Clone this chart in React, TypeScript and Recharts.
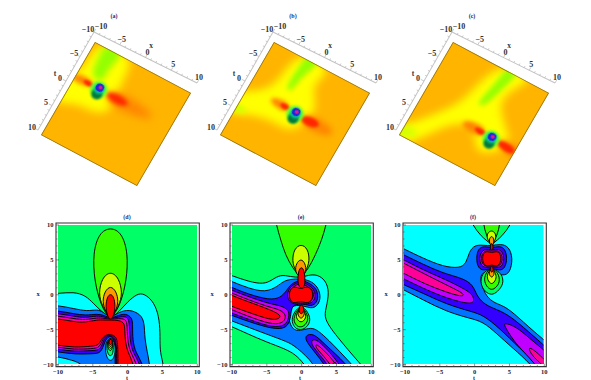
import { ScatterChart, Scatter, XAxis, YAxis, Curve } from 'recharts';

type Pts = number[][];

// hue levels of the contour plots
const SPRING = '#00ff66';
const LIME = '#33ff00';
const YGREEN = '#ccff00';
const ORANGE = '#ff9900';
const RED = '#ff0000';
const CYAN = '#00ffff';
const BLUE = '#0073ff';
const DARK = '#3300ff';
const PURPLE = '#c000ff';
const MAGENTA = '#ff0099';

const minorTicks = [-10, -9, -8, -7, -6, -5, -4, -3, -2, -1, 0, 1, 2, 3, 4, 5, 6, 7, 8, 9, 10];
const majorTicks = [-10, -5, 0, 5, 10];

const wholeField: Pts = [[-13, -13], [13, -13], [13, 13], [-13, 13]];
const frameBox: Pts = [[-10.29, -10.29], [10.29, -10.29], [10.29, 10.29], [-10.29, 10.29]];
const surfaceBox: Pts = [[-10, -10], [10, -10], [10, 10], [-10, 10]];

// ---- panel (d), contour lines as [t, x]
const dCyan: Pts = [[-12, 0.15], [-10, 0.15], [-7.75, 0.4], [-6.07, -0.1], [-4.87, -1.3], [-3.67, -2.5], [-2.47, -3.4], [-1.27, -2.5], [-0.07, -1.05], [1.37, 0.15], [2.33, 0.15], [3.52, -0.8], [4.34, -2.5], [4.65, -4.9], [4.6, -7.2], [4.75, -8.7], [5.11, -10], [5.3, -12], [-11, -12], [-12, -12], [-12, -11]];
const dBlue: Pts = [[-12, -1.5], [-10, -1.55], [-7.75, -2], [-5.8, -2.4], [-4.4, -2.1], [-3.5, -2.5], [-2.47, -3.4], [-1.27, -2.5], [0.2, -2.1], [1.85, -2.8], [2.4, -4], [2.42, -6.3], [2.8, -8.2], [3.14, -10], [3.3, -12], [-6, -12], [-6.3, -10], [-8, -9.4], [-10, -8.9], [-12, -8.7]];
const dDark: Pts = [[-12, -2.25], [-10, -2.3], [-7.75, -2.75], [-6, -3], [-4.4, -2.75], [-3.4, -2.95], [-2.47, -3.45], [-1.3, -2.95], [-0.3, -2.7], [0.65, -3.3], [0.7, -4.5], [0.7, -6.5], [1.1, -8.3], [2.23, -10], [2.5, -12], [-1.8, -12], [-1.8, -10], [-1.85, -7.14], [-2.09, -6.24], [-2.47, -6], [-2.85, -6.1], [-3.33, -6.76], [-3.81, -8.43], [-5, -8.48], [-7.75, -8.57], [-10, -8.19], [-12, -8]];
const dPurple: Pts = [[-12, -2.6], [-10, -2.7], [-7.75, -3.1], [-6.07, -3.35], [-4.4, -3], [-3.4, -3.2], [-2.47, -3.5], [-1.3, -3.2], [-0.2, -3.1], [0.26, -3.7], [0.3, -6.5], [0.7, -8.3], [1.85, -10], [2.1, -12], [-1.65, -12], [-1.65, -10], [-1.7, -7], [-1.99, -6.14], [-2.47, -5.9], [-2.95, -5.9], [-3.48, -6.52], [-3.91, -8], [-5, -8], [-7.75, -8.2], [-10, -7.81], [-12, -7.6]];
const dMagenta: Pts = [[-12, -3], [-10, -3.05], [-7.75, -3.45], [-6.07, -3.65], [-4.4, -3.3], [-3.4, -3.4], [-2.47, -3.55], [-1.3, -3.4], [-0.4, -3.5], [-0.07, -4], [-0.05, -6.5], [0.35, -8.3], [1.37, -10], [1.6, -12], [-1.56, -12], [-1.56, -10], [-1.61, -6.86], [-1.89, -6.05], [-2.47, -5.81], [-3.05, -5.81], [-3.62, -6.43], [-4.05, -7.62], [-5, -7.75], [-7.75, -7.9], [-10, -7.52], [-12, -7.3]];
const dRed: Pts = [[-12, -3.4], [-10, -3.43], [-7.75, -3.9], [-6.07, -4], [-4.4, -3.6], [-3.4, -3.65], [-2.47, -3.65], [-1.27, -3.67], [-0.6, -4], [-0.41, -4.6], [-0.41, -6.5], [0, -8.3], [0.89, -10], [1.1, -12], [-1.41, -12], [-1.41, -10], [-1.41, -8.19], [-1.46, -6.76], [-1.75, -5.95], [-2.47, -5.71], [-3.19, -5.76], [-3.81, -6.43], [-4.15, -7.24], [-5, -7.4], [-7.75, -7.6], [-10, -7.24], [-12, -7]];
const dHumpCyan: Pts = [[-2.47, -6.1], [-3.1, -6.7], [-3.25, -8], [-2.95, -9.2], [-2.47, -9.55], [-2, -9.2], [-1.75, -8], [-1.9, -6.7]];
const dHumpSpring: Pts = [[-2.47, -6.15], [-2.95, -6.7], [-3.05, -7.8], [-2.75, -8.7], [-2.47, -8.8], [-2.15, -8.6], [-2.05, -7.6], [-2.1, -6.7]];
const dHumpLime: Pts = [[-2.47, -6.2], [-2.85, -6.7], [-2.95, -7.5], [-2.47, -8.3], [-2.15, -7.5], [-2.15, -6.7]];
const dHumpYellow: Pts = [[-2.47, -6.2], [-2.8, -6.7], [-2.85, -7.3], [-2.47, -7.9], [-2.15, -7.3], [-2.15, -6.7]];
const dHumpOrange: Pts = [[-2.47, -6.25], [-2.75, -6.7], [-2.75, -7.15], [-2.47, -7.6], [-2.2, -7.15], [-2.2, -6.7]];
const dHumpRed: Pts = [[-2.47, -6.3], [-2.7, -6.7], [-2.65, -7.05], [-2.47, -7.25], [-2.3, -7.05], [-2.25, -6.7]];
const dPearSpring: Pts = [[-2.47, 9.7], [-4.1, 8.9], [-5, 6], [-4.8, 2], [-3.9, -1.3], [-3.2, -2.6], [-2.47, -3.5], [-2.47, -3.5], [-1.8, -2.6], [-1.05, -1.3], [-0.15, 2], [0.05, 6], [-0.85, 8.9]];
const dPearYellow: Pts = [[-2.47, 3.4], [-3.7, 2.4], [-4.2, 0.2], [-3.7, -1.6], [-2.47, -3.5], [-1.25, -1.6], [-0.75, 0.2], [-1.25, 2.4]];
const dPearOrange: Pts = [[-2.47, 1.3], [-3.3, 0.5], [-3.65, -1], [-3.2, -2.4], [-2.47, -3.6], [-1.75, -2.4], [-1.3, -1], [-1.65, 0.5]];
const dPearRed: Pts = [[-2.47, 0.15], [-2.95, -0.3], [-3.2, -1.7], [-2.95, -3], [-2.47, -3.75], [-2, -3], [-1.75, -1.7], [-2, -0.3]];

// ---- panel (e)
const eCyan: Pts = [[-12, 3.4], [-10, 2.73], [-7.6, 1.87], [-5.45, 1.48], [-4.26, 2.1], [-3.06, 2.9], [-1.63, 2.58], [-0.19, 2.44], [1, 2.82], [2.2, 2.9], [3.4, 2.1], [3.97, 0.43], [3.49, -1.96], [3.15, -3.4], [4.83, -5.79], [8.41, -10], [10.3, -12], [1.7, -12], [0.29, -9.86], [-0.91, -8.6], [-2.35, -7.8], [-5.2, -6.75], [-7.6, -5.7], [-10, -4.6], [-12, -3.8]];
const eBlue: Pts = [[-12, 2.7], [-10, 1.87], [-7.6, 0.9], [-5.2, 0.33], [-3.5, 1.15], [-2.6, 1.96], [-1.63, 2.2], [-0.19, 2.3], [1.5, 1.96], [2.6, 0.67], [2.7, -1], [1.8, -2], [0.8, -1.8], [-0.2, -1.5], [-1.3, -1.6], [-1.9, -2], [-1.9, -3.6], [-1.3, -5.1], [-0.2, -5.2], [1, -4.8], [1.96, -4.84], [3.63, -6.27], [7.2, -10], [8.8, -12], [2.2, -12], [1.96, -10], [-0.91, -7.4], [-2.1, -6.75], [-4.7, -5.8], [-7.6, -4.7], [-10, -3.78], [-12, -3]];
const eDark: Pts = [[-12, 2], [-10, 1], [-7.6, 0.05], [-4.7, -0.76], [-3.06, -0.5], [-2.1, 0.67], [-1.6, 1.5], [-0.19, 2.2], [1, 1.7], [2.2, 0.9], [2.4, -0.8], [1.6, -1.7], [0.5, -1.4], [-0.2, -1.3], [-1.3, -1.5], [-1.55, -2.5], [-1.6, -3.3], [-2.1, -4.9], [-4.26, -4.93], [-7.6, -3.87], [-10, -3], [-12, -2.2]];
const ePurple: Pts = [[-12, 1.5], [-10, 0.62], [-7.6, -0.3], [-4.7, -1.3], [-2.9, -1.6], [-1.85, -2.2], [-1.8, -3.2], [-2.3, -4.5], [-4.2, -4.7], [-6.65, -3.9], [-10, -2.68], [-12, -1.8]];
const eMagenta: Pts = [[-12, 1.1], [-10, 0.2], [-7.6, -0.75], [-5, -1.7], [-3.06, -2.15], [-2.2, -2.9], [-2.5, -4], [-4, -4.35], [-6.65, -3.5], [-10, -2.2], [-12, -1.3]];
const eRed: Pts = [[-12, 0.8], [-10, -0.14], [-7.6, -1.05], [-4.7, -2.1], [-3.2, -2.8], [-3, -3.3], [-4, -3.75], [-6.65, -2.9], [-10, -1.7], [-12, -0.9]];
const eIslandDark: Pts = [[0.52, -5.79], [1.72, -5.55], [3.15, -6.99], [6.5, -10], [7.6, -12], [4, -12], [3.4, -10], [0.52, -6.75]];
const eIslandPurple: Pts = [[1.48, -6.37], [2.44, -6.51], [5.54, -10], [6.4, -12], [4.4, -12], [3.87, -10], [1.24, -7.23]];
const eIslandMagenta: Pts = [[1.96, -6.99], [2.91, -7.71], [5.07, -10], [5.7, -12], [4.6, -12], [4.35, -10], [1.96, -7.71]];
const eIslandRed: Pts = [[4.7, -9.5], [5.2, -10.2], [5.2, -11], [4.3, -11], [4.3, -10.2]];
const eRingPurple: Pts = [[-0.2, 1.9], [1, 1.4], [1.9, 0.6], [2, -0.6], [1.2, -1.4], [-0.2, -1.3], [-1.3, -1.4], [-2.1, -0.6], [-2, 0.6], [-1.3, 1.4]];
const eRingMagenta: Pts = [[-0.2, 1.7], [0.9, 1.2], [1.7, 0.5], [1.7, -0.5], [1, -1.2], [-0.2, -1.2], [-1.2, -1.2], [-1.8, -0.5], [-1.75, 0.5], [-1.2, 1.2]];
const eRingRed: Pts = [[-0.2, 0.7], [0.6, 1.25], [1.55, 0.8], [1.65, -0.6], [0.9, -1.35], [-0.2, -0.85], [-1.2, -1.35], [-1.85, -0.6], [-1.75, 0.8], [-0.9, 1.25]];
const eFanLime: Pts = [[-4, 12], [-3.64, 10], [-3, 7.8], [-2.34, 5.7], [-1.3, 3.8], [-0.15, 2.4], [-0.15, 2.4], [1, 3.8], [1.96, 5.7], [2.85, 7.8], [3.49, 10], [3.9, 12]];
const eFanYellow: Pts = [[-0.1, 7.3], [-1.1, 6.6], [-1.4, 4.8], [-0.9, 3.4], [-0.15, 2.3], [0.6, 3.4], [1.15, 4.8], [0.9, 6.6]];
const eFanOrange: Pts = [[-0.1, 5.2], [-0.8, 4.5], [-1, 3.3], [-0.15, 2.2], [0.7, 3.3], [0.5, 4.5]];
const eFanRed: Pts = [[-0.05, 4.1], [-0.5, 3.4], [-0.6, 1.8], [-0.3, 0.9], [0.3, 0.9], [0.5, 1.8], [0.4, 3.4]];
const eLobeSpring: Pts = [[-0.1, -1.4], [1, -2.6], [1.3, -3.9], [0.5, -4.9], [-0.2, -5.05], [-0.9, -4.9], [-1.5, -3.9], [-1.2, -2.6]];
const eLobeLime: Pts = [[-0.1, -1.5], [0.7, -2.6], [1, -3.7], [0.3, -4.55], [-0.2, -4.65], [-0.7, -4.55], [-1.25, -3.7], [-0.9, -2.6]];
const eLobeYellow: Pts = [[-0.1, -1.5], [0.45, -2.6], [0.7, -3.3], [-0.1, -4.2], [-0.9, -3.3], [-0.65, -2.6]];
const eLobeOrange: Pts = [[-0.1, -1.5], [0.35, -2.4], [0.4, -2.9], [-0.1, -3.6], [-0.6, -2.9], [-0.5, -2.4]];
const eLobeRed: Pts = [[-0.05, -1.3], [0.35, -1.9], [0.2, -2.6], [-0.05, -2.8], [-0.35, -2.6], [-0.45, -1.9]];

// ---- panel (f)
const fBlue: Pts = [[-12, 7.6], [-10, 6.55], [-7.24, 5.22], [-4.38, 4.02], [-2, 3.78], [-1.05, 4.5], [-0.67, 6.17], [0.14, 7.13], [1.33, 7.1], [2.57, 7], [3.9, 7.3], [5.05, 6.9], [5.62, 5.22], [5.2, 3.1], [4.2, 2.7], [2.6, 3.1], [0.86, 3.3], [1.1, 1.39], [1.81, -0.29], [3, -1.24], [4.67, -1.72], [7.05, -3.88], [10, -6.5], [12, -8], [12, -12], [9.5, -12], [8.24, -10], [5.62, -7.7], [3.24, -5.55], [1.33, -3.88], [-0.57, -3.4], [-3.9, -2.44], [-7.24, -0.77], [-10, 0.67], [-12, 1.7]];
const fDark: Pts = [[-12, 6.7], [-10, 5.69], [-7.24, 4.35], [-4.38, 3.06], [-1.52, 2.34], [-0.1, 1.39], [0.38, -0.05], [1.33, -1.24], [2.76, -1.96], [4.67, -2.68], [7.05, -4.6], [10, -7.22], [12, -9], [12, -12], [10.5, -12], [9.19, -10], [6.57, -7.7], [3.71, -4.83], [1.33, -2.92], [-0.33, -2.44], [-3.9, -1.39], [-7.24, 0.19], [-10, 1.39], [-12, 2.4]];
const fPurpleLeft: Pts = [[-12, 6], [-10, 4.98], [-7.24, 3.54], [-3.9, 2.11], [-1.52, 0.9], [-0.33, 0.19], [0.14, -0.77], [-0.33, -1.48], [-3.9, -0.53], [-7.24, 0.9], [-10, 2.25], [-12, 3.2]];
const fMagentaLeft: Pts = [[-12, 5.5], [-10, 4.5], [-7.24, 3.06], [-3.9, 1.39], [-1.76, 0.33], [-1.4, -0.05], [-1.76, -0.29], [-3.9, 0.33], [-7.24, 1.63], [-10, 3.06], [-12, 4]];
const fPurpleRight: Pts = [[4.29, -3.97], [6.1, -4.6], [8, -6.27], [10, -7.94], [12, -9.5], [12, -12], [10, -12], [8.95, -10], [6.1, -7.22], [4.43, -4.6]];
const fMagentaRight: Pts = [[7.86, -7.46], [8.95, -8.18], [10, -9.23], [12, -11], [12, -12], [10.6, -12], [9.9, -10], [8.95, -9.38], [8, -8.18]];
const fRingDark: Pts = [[2.57, 6.7], [1.5, 7], [0.6, 6.6], [0.35, 5.2], [0.6, 3.8], [1.5, 3.4], [2.57, 3.9], [3.7, 3.4], [4.5, 3.8], [4.8, 5.2], [4.5, 6.6], [3.7, 7]];
const fRingPurple: Pts = [[2.57, 6.4], [1.6, 6.6], [1, 6], [0.8, 5.2], [1, 4.3], [1.6, 3.8], [2.57, 4.1], [3.6, 3.8], [4.2, 4.3], [4.35, 5.2], [4.2, 6], [3.6, 6.6]];
const fRingMagenta: Pts = [[2.57, 6.2], [1.7, 6.4], [1.2, 5.8], [1.05, 5.2], [1.2, 4.5], [1.7, 4], [2.57, 4.2], [3.5, 4], [4, 4.5], [4.1, 5.2], [4, 5.8], [3.5, 6.4]];
const fRingRed: Pts = [[2.57, 5.95], [1.9, 6.3], [1.25, 5.85], [1.25, 4.55], [1.9, 3.95], [2.57, 4.4], [3.25, 3.95], [3.9, 4.55], [3.9, 5.85], [3.25, 6.3]];
const fFanSpring: Pts = [[-1.1, 12], [-0.15, 10], [1, 8.4], [2.57, 7.2], [2.57, 7.2], [4.1, 8.4], [5.25, 10], [6.2, 12]];
const fFanLime: Pts = [[1.2, 12], [1.43, 10], [1.75, 8.6], [2.57, 7.1], [2.57, 7.1], [3.4, 8.6], [3.71, 10], [3.95, 12]];
const fFanYellow: Pts = [[2.57, 9.3], [1.9, 8.8], [1.9, 8], [2.57, 7], [3.2, 8], [3.15, 8.8]];
const fFanOrange: Pts = [[2.57, 8.5], [2.2, 8], [2.25, 7.4], [2.57, 6.9], [2.9, 7.4], [2.9, 8]];
const fFanRed: Pts = [[2.57, 7.5], [2.35, 7], [2.4, 6.4], [2.75, 6.4], [2.8, 7]];
const fLobeSpring: Pts = [[2.57, 4], [1.1, 3], [0.95, 1.5], [1.6, 0.4], [2.57, -0.1], [3.4, 0.4], [4.3, 1.5], [4.1, 3]];
const fLobeLime: Pts = [[2.57, 4], [1.6, 3], [1.5, 1.8], [2, 1], [2.57, 0.65], [3.2, 1], [3.75, 1.8], [3.6, 3]];
const fLobeYellow: Pts = [[2.57, 4], [1.95, 3], [1.9, 2.2], [2.57, 1.3], [3.25, 2.2], [3.2, 3]];
const fLobeOrange: Pts = [[2.57, 4], [2.2, 3.3], [2.2, 2.9], [2.57, 2.35], [2.95, 2.9], [2.9, 3.3]];
const fLobeRed: Pts = [[2.57, 4.2], [2.35, 3.8], [2.4, 3.4], [2.57, 3.15], [2.8, 3.4], [2.8, 3.8]];

const dContours: [Pts, string][] = [
  [dCyan, CYAN], [dBlue, BLUE], [dDark, DARK], [dPurple, PURPLE], [dMagenta, MAGENTA], [dRed, RED],
  [dHumpCyan, CYAN], [dHumpSpring, SPRING], [dHumpLime, LIME], [dHumpYellow, YGREEN], [dHumpOrange, ORANGE], [dHumpRed, RED],
  [dPearSpring, LIME], [dPearYellow, YGREEN], [dPearOrange, ORANGE], [dPearRed, RED],
];
const eContours: [Pts, string][] = [
  [eFanLime, LIME], [eCyan, CYAN], [eBlue, BLUE], [eDark, DARK], [ePurple, PURPLE], [eMagenta, MAGENTA], [eRed, RED],
  [eIslandDark, DARK], [eIslandPurple, PURPLE], [eIslandMagenta, MAGENTA], [eIslandRed, RED],
  [eRingPurple, PURPLE], [eRingMagenta, MAGENTA], [eRingRed, RED],
  [eFanYellow, YGREEN], [eFanOrange, ORANGE], [eFanRed, RED],
  [eLobeSpring, SPRING], [eLobeLime, LIME], [eLobeYellow, YGREEN], [eLobeOrange, ORANGE], [eLobeRed, RED],
];
const fContours: [Pts, string][] = [
  [fFanSpring, SPRING], [fFanLime, LIME], [fBlue, BLUE], [fDark, DARK], [fPurpleLeft, PURPLE], [fMagentaLeft, MAGENTA],
  [fPurpleRight, PURPLE], [fMagentaRight, MAGENTA],
  [fRingDark, DARK], [fRingPurple, PURPLE], [fRingMagenta, MAGENTA], [fRingRed, RED],
  [fFanYellow, YGREEN], [fFanOrange, ORANGE], [fFanRed, RED],
  [fLobeSpring, SPRING], [fLobeLime, LIME], [fLobeYellow, YGREEN], [fLobeOrange, ORANGE], [fLobeRed, RED],
];

// ---- surfaces, soft patches as [x, t]
const aYellow: Pts = [[-9.3, -11], [-1.9, -11], [-2.2, -6.1], [-1.2, -2.2], [-1.5, 0.8], [-4, 1.8], [-6.9, 1.6], [-9.7, 3], [-12, 3.4], [-12, -1.4], [-9.6, -4], [-9.6, -6.5]];
const aGreen: Pts = [[-8.3, -11], [-4.3, -11], [-5, -8], [-5.4, -6], [-5, -4.1], [-6.9, -3.8], [-7.9, -5.4], [-8, -7.9]];
const aTailR: Pts = [[-3, -3.5], [0, -4], [4, -3.6], [7, -2.6], [4, -1.4], [0, -1], [-3, -1.4]];
const aCoreR: Pts = [[-3.6, -2.8], [-2, -3.5], [0.2, -3.3], [1.4, -2.5], [0, -1.7], [-2, -1.6], [-3.4, -2.2]];
const aTailL: Pts = [[-6.4, -3.2], [-8.5, -3.6], [-10.5, -3], [-10.5, -1.9], [-8.5, -1.7], [-6.4, -2.2]];
const aCoreL: Pts = [[-6.2, -2.9], [-7.5, -3.2], [-8.6, -2.7], [-7.5, -2], [-6.2, -2.3]];
const aSpotX = [-5, -4.9, -5, -5, -4.9];
const aSpotT = [-2.5, -1.6, -2.7, -2.9, -3];

const bYellow: Pts = [[-5.6, -11], [-5.5, -3.8], [-7.6, -0.5], [-12, 1.2], [-13, 7], [-6.35, 3.4], [-1.55, 3.2], [1.34, 3.4], [3.4, -1.9], [1.5, -4.5], [0, -6.55], [2.2, -11]];
const bGreen: Pts = [[-3.5, -11], [-0.7, -11], [-1.6, -8.5], [-2.5, -6], [-2.6, -3.4], [-3.8, -3.1], [-3.9, -6], [-3.7, -8.5]];
const bGreenEdge: Pts = [[-11, 3.2], [-8.5, 3.3], [-7.6, 3.9], [-8.5, 4.6], [-11, 5.2]];
const bTailR: Pts = [[1.6, -1], [4, -1.4], [7, -1], [8, 0], [7, 1], [4, 1.3], [1.6, 1]];
const bCoreR: Pts = [[1.2, -0.3], [2.8, -1], [4.6, -0.8], [5, 0], [4, 0.8], [2.5, 0.9], [1.2, 0.4]];
const bTailL: Pts = [[-1.5, -1], [-3, -1.3], [-5, -0.9], [-5.4, -0.1], [-4, 0.5], [-2.5, 0.6], [-1.5, 0.3]];
const bCoreL: Pts = [[-1.2, -0.6], [-2.4, -1], [-3.6, -0.5], [-2.6, 0.3], [-1.3, 0.1]];
const bSpotX = [0, 0.1, 0, 0, 0.1];
const bSpotT = [0, 0.9, -0.2, -0.4, -0.5];

const cYellow: Pts = [[-1, -11], [-2.6, -2.4], [-4.2, 1], [-10, 8], [-12, 9.5], [-12, 11], [-8, 11], [-5.4, 7.4], [-2.55, 3.2], [1.3, 1.5], [3, 5.5], [5.3, 5.8], [8.3, 3], [8.3, 1], [4, -2.4], [2.7, -5.3], [5.5, -10], [6, -11]];
const cGreen: Pts = [[1, -11], [3.5, -11], [2.6, -8], [1.8, -5], [0.8, -2], [-0.5, -1.7], [0, -4.5], [0.6, -7.5]];
const cGreenCorner: Pts = [[-11, 7.6], [-8, 7.6], [-6.8, 8.4], [-8, 9.4], [-10, 10.5], [-11, 10.5]];
const cTailR: Pts = [[6.5, 1.6], [9, 1.4], [12, 2], [12, 4], [9, 3.8], [6.5, 3.2]];
const cCoreR: Pts = [[6.2, 2.1], [8, 1.8], [10, 2.2], [10, 3.4], [8, 3.5], [6.2, 2.9]];
const cTailL: Pts = [[3.5, 1.4], [1, 1.2], [-1, 1.8], [-1, 3], [1, 3.4], [3.5, 3.2]];
const cCoreL: Pts = [[3.7, 1.9], [2.4, 1.7], [1, 2.2], [2.4, 3], [3.7, 2.7]];
const cSpotX = [5, 5.1, 5, 5, 5.1];
const cSpotT = [2.6, 3.5, 2.4, 2.2, 2.1];

const spotFill = ['#60ff30', '#007a3c', '#00c8a0', '#2222dd', '#d8208c'];
const spotRadius = [8, 5, 5, 3.8, 1.8];
const spotBlur = [1.5, 1.2, 0.8, 0.5, 0.5];

const GOLD = '#ffb400';
const YELLOW = '#ffff00';
const LEAF = '#93ff00';
const PALE_LEAF = '#d4ff00';
const EMBER = '#ff8400';
const SCARLET = '#ff2600';

const asPoints = (pts: Pts) => pts.map(([a, b]) => ({ a, b }));

function patch(key: string, pts: Pts, fill: string, stroke: string, strokeWidth: number, blur = 0, type = 'basisClosed') {
  return (
    <Scatter
      key={key}
      data={asPoints(pts)}
      isAnimationActive={false}
      shape={() => <g />}
      line={(p: any) => (
        <Curve
          points={p.points}
          type={type as any}
          fill={fill}
          stroke={stroke}
          strokeWidth={strokeWidth}
          style={blur ? { filter: `blur(${blur}px)` } : undefined}
        />
      )}
    />
  );
}

const AXIS_FONT = '"Liberation Serif", serif';

// ---- contour panels
function ContourPanel({ contours, background, fillLeft, frameLeft }: { contours: [Pts, string][]; background: string; fillLeft: number; frameLeft: number }) {
  const frameW = 143.3;
  const frameH = 143.6;
  const fillTicks = (orient: string) => (props: any) => {
    const { x, y, payload } = props;
    const major = majorTicks.includes(payload.value);
    const len = major ? 3 : 1.5;
    const label = String(payload.value).replace('-', '\u2212');
    const tickColor = '#444';
    if (orient === 'bottom') {
      return (
        <g>
          <line x1={x} y1={y} x2={x} y2={y - len} stroke={tickColor} strokeWidth={0.6} />
          {major && <text x={x} y={y + 7} textAnchor="middle" fontSize={6.5} fontWeight={700} fontFamily={AXIS_FONT} fill="#223">{label}</text>}
        </g>
      );
    }
    if (orient === 'left') {
      return (
        <g>
          <line x1={x} y1={y} x2={x + len} y2={y} stroke={tickColor} strokeWidth={0.6} />
          {major && <text x={x - 2.5} y={y + 2.2} textAnchor="end" fontSize={6.5} fontWeight={700} fontFamily={AXIS_FONT} fill="#223">{label}</text>}
        </g>
      );
    }
    if (orient === 'top') return <line x1={x} y1={y} x2={x} y2={y + len} stroke={tickColor} strokeWidth={0.6} />;
    return <line x1={x} y1={y} x2={x - len} y2={y} stroke={tickColor} strokeWidth={0.6} />;
  };
  return (
    <>
      <div style={{ position: 'absolute', left: fillLeft, top: 225 }}>
        <ScatterChart width={139.5} height={139.3} margin={{ top: 0, right: 0, bottom: 0, left: 0 }}>
          <XAxis type="number" dataKey="a" domain={[-10, 10]} allowDataOverflow hide />
          <YAxis type="number" dataKey="b" domain={[-10, 10]} allowDataOverflow hide />
          {patch('field', wholeField, background, 'none', 0, 0, 'linearClosed')}
          {contours.map(([pts, fill], i) => patch(`c${i}`, pts, fill, '#000', 0.95))}
        </ScatterChart>
      </div>
      <div style={{ position: 'absolute', left: frameLeft - 30, top: 212.5 }}>
        <ScatterChart width={frameW + 40} height={frameH + 26} margin={{ top: 9, right: 9, bottom: 0, left: 0 }}>
          <XAxis xAxisId="bottom" type="number" dataKey="a" domain={[-10.29, 10.29]} ticks={minorTicks} interval={0} height={16} axisLine={false} tickLine={false} tickSize={0} tickMargin={0} tick={fillTicks('bottom')} />
          <XAxis xAxisId="top" orientation="top" type="number" dataKey="a" domain={[-10.29, 10.29]} ticks={minorTicks} interval={0} height={1} axisLine={false} tickLine={false} tickSize={0} tickMargin={0} tick={fillTicks('top')} />
          <YAxis yAxisId="left" type="number" dataKey="b" domain={[-10.29, 10.29]} ticks={minorTicks} interval={0} width={30} axisLine={false} tickLine={false} tickSize={0} tickMargin={0} tick={fillTicks('left')} />
          <YAxis yAxisId="right" orientation="right" type="number" dataKey="b" domain={[-10.29, 10.29]} ticks={minorTicks} interval={0} width={1} axisLine={false} tickLine={false} tickSize={0} tickMargin={0} tick={fillTicks('right')} />
          <Scatter
            xAxisId="bottom"
            yAxisId="left"
            data={asPoints(frameBox)}
            isAnimationActive={false}
            shape={() => <g />}
            line={(p: any) => <Curve points={p.points} type="linearClosed" fill="none" stroke="#333" strokeWidth={1.1} />}
          />
        </ScatterChart>
      </div>
    </>
  );
}

// ---- surface panels: the charts are laid on the skewed square with a css matrix
const SQUARE = 100;
const PAD = 30;
const surfaceMatrix = [0.96, 0.51, -0.54, 0.93];
const boxMatrix = [1.03, 0.51, -0.56, 0.98];
const boxDet = boxMatrix[0] * boxMatrix[3] - boxMatrix[1] * boxMatrix[2];
const boxInverse = `matrix(${boxMatrix[3] / boxDet},${-boxMatrix[1] / boxDet},${-boxMatrix[2] / boxDet},${boxMatrix[0] / boxDet},0,0)`;

function BoxTick({ x, y, payload, dx, dy, up }: any) {
  const major = majorTicks.includes(payload.value);
  const len = major ? 3 : 1.6;
  const shift = up && payload.value === -10 ? 5 : 0;
  return (
    <g>
      {up ? (
        <line x1={x} y1={y} x2={x} y2={y - len} stroke="#b8b8b8" strokeWidth={0.6} />
      ) : (
        <line x1={x} y1={y} x2={x - len} y2={y} stroke="#b8b8b8" strokeWidth={0.6} />
      )}
      {major && (
        <g transform={`translate(${x},${y}) ${boxInverse}`}>
          <text x={dx + shift} y={dy} textAnchor="middle" fontSize={8} fontFamily={AXIS_FONT} fontWeight={700} fill="#333">
            {String(payload.value).replace('-', '\u2212')}
          </text>
        </g>
      )}
    </g>
  );
}

function SurfacePanel({ offset, layers, spotX, spotT }: { offset: number; layers: [Pts, string, number][]; spotX: number[]; spotT: number[] }) {
  const m = surfaceMatrix;
  const b = boxMatrix;
  return (
    <>
      <div style={{ position: 'absolute', left: 0, top: 0, transformOrigin: '0 0', transform: `matrix(${m[0]},${m[1]},${m[2]},${m[3]},${95 + offset},42)` }}>
        <ScatterChart width={SQUARE} height={SQUARE} margin={{ top: 0, right: 0, bottom: 0, left: 0 }}>
          <XAxis type="number" dataKey="a" domain={[-10, 10]} allowDataOverflow hide />
          <YAxis type="number" dataKey="b" domain={[-10, 10]} allowDataOverflow reversed hide />
          {patch('base', wholeField, GOLD, 'none', 0, 0, 'linearClosed')}
          {layers.map(([pts, fill, blur], i) => patch(`l${i}`, pts, fill, 'none', 0, blur))}
          {spotX.map((sx, i) => (
            <Scatter
              key={`s${i}`}
              data={[{ a: sx, b: spotT[i] }]}
              isAnimationActive={false}
              shape={(p: any) => <circle cx={p.cx} cy={p.cy} r={spotRadius[i]} fill={spotFill[i]} style={{ filter: `blur(${spotBlur[i]}px)` }} />}
            />
          ))}
          {patch('edge', surfaceBox, 'none', '#8f7420', 1.4, 0, 'linearClosed')}
        </ScatterChart>
      </div>
      <div style={{ position: 'absolute', left: 0, top: 0, transformOrigin: '0 0', transform: `matrix(${b[0]},${b[1]},${b[2]},${b[3]},${94 + offset},32) translate(${-PAD}px,${-PAD}px)` }}>
        <ScatterChart width={SQUARE + 2 * PAD} height={SQUARE + 2 * PAD} margin={{ top: PAD - 1, right: PAD, bottom: PAD, left: PAD - 1 }}>
          <XAxis orientation="top" type="number" dataKey="a" domain={[-10, 10]} ticks={minorTicks} interval={0} height={1} axisLine={{ stroke: '#c4c4c4', strokeWidth: 0.8 }} tickLine={false} tickSize={0} tickMargin={0} tick={(p: any) => <BoxTick {...p} dx={2} dy={-3} up />} />
          <YAxis type="number" dataKey="b" domain={[-10, 10]} reversed ticks={minorTicks} interval={0} width={1} axisLine={{ stroke: '#c4c4c4', strokeWidth: 0.8 }} tickLine={false} tickSize={0} tickMargin={0} tick={(p: any) => <BoxTick {...p} dx={-6} dy={-0.5} />} />
          <Scatter data={asPoints(surfaceBox)} isAnimationActive={false} shape={() => <g />} />
        </ScatterChart>
      </div>
    </>
  );
}

function Note({ x, y, size, bold, color, children }: any) {
  return (
    <span style={{ position: 'absolute', left: x, top: y, transform: 'translate(-50%,-50%)', fontFamily: AXIS_FONT, fontSize: size, fontWeight: bold ? 700 : 400, color, lineHeight: 1, whiteSpace: 'nowrap' }}>
      {children}
    </span>
  );
}

const aLayers: [Pts, string, number][] = [[aYellow, YELLOW, 4], [aGreen, LEAF, 3], [aTailR, EMBER, 4], [aCoreR, SCARLET, 2], [aTailL, EMBER, 2], [aCoreL, SCARLET, 1.2]];
const bLayers: [Pts, string, number][] = [[bYellow, YELLOW, 4], [bGreen, LEAF, 2.5], [bGreenEdge, PALE_LEAF, 2.5], [bTailR, EMBER, 3], [bCoreR, SCARLET, 1.6], [bTailL, EMBER, 2], [bCoreL, SCARLET, 1.2]];
const cLayers: [Pts, string, number][] = [[cYellow, YELLOW, 4], [cGreen, LEAF, 2.5], [cGreenCorner, PALE_LEAF, 3], [cTailR, EMBER, 3], [cCoreR, SCARLET, 1.6], [cTailL, EMBER, 2], [cCoreL, SCARLET, 1.2]];

export default function App() {
  const navy = '#1c2c70';
  return (
    <div style={{ position: 'absolute', left: 0, top: 0, width: 591, height: 380, overflow: 'hidden', background: '#fff' }}>
      <SurfacePanel offset={0} layers={aLayers} spotX={aSpotX} spotT={aSpotT} />
      <SurfacePanel offset={179} layers={bLayers} spotX={bSpotX} spotT={bSpotT} />
      <SurfacePanel offset={358} layers={cLayers} spotX={cSpotX} spotT={cSpotT} />
      <ContourPanel contours={dContours} background={SPRING} fillLeft={57.7} frameLeft={55.6} />
      <ContourPanel contours={eContours} background={SPRING} fillLeft={231.7} frameLeft={230} />
      <ContourPanel contours={fContours} background={CYAN} fillLeft={404.2} frameLeft={402.7} />

      <Note x={114} y={16} size={6} bold color={navy}>(a)</Note>
      <Note x={293} y={16} size={6} bold color={navy}>(b)</Note>
      <Note x={472} y={16} size={6} bold color={navy}>(c)</Note>
      <Note x={127} y={217} size={6} bold color={navy}>(d)</Note>
      <Note x={301} y={217} size={6} bold color={navy}>(e)</Note>
      <Note x={473} y={217} size={6} bold color={navy}>(f)</Note>

      <Note x={151} y={46} size={7.5} bold color="#333">x</Note>
      <Note x={55} y={74} size={7.5} bold color="#333">t</Note>
      <Note x={330} y={46} size={7.5} bold color="#333">x</Note>
      <Note x={234} y={74} size={7.5} bold color="#333">t</Note>
      <Note x={509} y={46} size={7.5} bold color="#333">x</Note>
      <Note x={413} y={74} size={7.5} bold color="#333">t</Note>

      <Note x={127} y={377.5} size={6} bold color="#223">t</Note>
      <Note x={300} y={377.5} size={6} bold color="#223">t</Note>
      <Note x={474} y={377.5} size={6} bold color="#223">t</Note>
      <Note x={38} y={294} size={6.5} bold color="#223">x</Note>
      <Note x={212} y={294} size={6.5} bold color="#223">x</Note>
      <Note x={386} y={294} size={6.5} bold color="#223">x</Note>
    </div>
  );
}
